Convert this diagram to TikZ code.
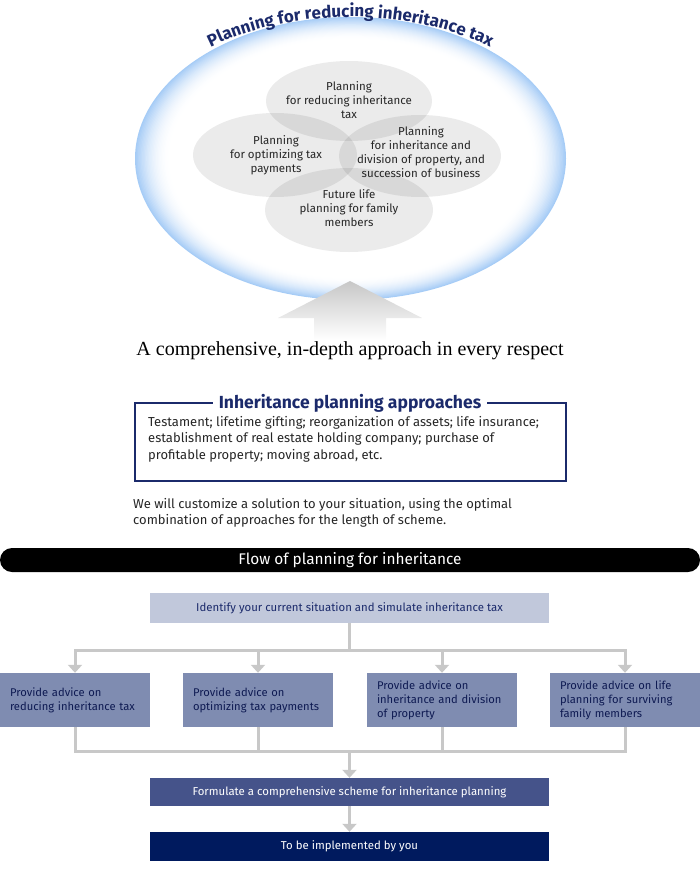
\documentclass[tikz,border=0pt]{standalone}
\usepackage{fontspec}
\setmainfont{Fira Sans}
\newfontfamily\serifface{Liberation Serif}
\usetikzlibrary{arrows.meta,decorations.text}

\definecolor{navy}{HTML}{1B2A6B}
\definecolor{glow}{HTML}{A6CCF6}
\definecolor{linkgray}{HTML}{C8C8C8}
\definecolor{idfill}{HTML}{C1C8DB}
\definecolor{advfill}{HTML}{7F8CB1}
\definecolor{advtext}{HTML}{0E1A52}
\definecolor{schemefill}{HTML}{45538A}
\definecolor{implfill}{HTML}{001A5E}

\begin{document}
\begin{tikzpicture}[x=1pt,y=1pt,
    blob/.style={fill=black, fill opacity=0.08},
    blobtext/.style={align=center, text=black!85, font=\fontsize{11.5}{14}\selectfont},
    widebox/.style={minimum width=399, minimum height=29, inner sep=0, font=\fontsize{11.4}{13}\selectfont},
    advbox/.style={fill=advfill, text=advtext, text width=130, inner xsep=10, minimum height=54, align=left, font=\fontsize{11.2}{14}\selectfont},
    link/.style={draw=linkgray, line width=3},
    arrowed/.style={-{Triangle[width=14pt,length=8pt]}}]
    \useasboundingbox (0,0) rectangle (700,-886);

    % planning circle, glow fading inwards
    \foreach \k in {0,...,25} {
        \pgfmathsetmacro\pct{100*(1-\k/25)^2}
        \fill[glow!\pct!white] (350.5,-158.5) ellipse ({215.5-1.4*\k} and {141.5-0.9*\k});
    }
    \path[decorate, decoration={text along path, text align=center, text color=navy,
        text={|\bfseries\fontsize{17}{17}\selectfont|Planning for reducing inheritance tax}}]
        (350.5,-158.5) ++(138:226 and 141.5) arc[start angle=138, end angle=42, x radius=226, y radius=141.5];

    \fill[blob] (349,-101) ellipse (83 and 40);
    \fill[blob] (275,-155) ellipse (82 and 42);
    \fill[blob] (420,-156) ellipse (81 and 41);
    \fill[blob] (349,-210) ellipse (84 and 42);
    \node[blobtext] (reducing) at (349,-100) {Planning\\for reducing inheritance\\tax};
    \node[blobtext] (optimizing) at (276,-155) {Planning\\for optimizing tax\\payments};
    \node[blobtext] (division) at (421,-152) {Planning\\for inheritance and\\division of property, and\\succession of business};
    \node[blobtext] (family) at (349,-208) {Future life\\planning for family\\members};

    \shade[top color=black!22, bottom color=white] (350,-281) -- (422,-318) -- (386,-318) -- (386,-340)
        -- (314,-340) -- (314,-318) -- (278,-318) -- cycle;

    \node[font=\serifface\fontsize{20}{20}\selectfont] (motto) at (350,-351) {A comprehensive, in-depth approach in every respect};

    % approaches
    \draw[navy, line width=2] (135,-403) rectangle (566,-481);
    \node[fill=white, text=navy, inner xsep=6, font=\bfseries\fontsize{17.5}{17.5}\selectfont] (approaches) at (350,-403) {Inheritance planning approaches};
    \node[anchor=north west, inner sep=0, align=left, text=black!85, font=\fontsize{13}{16.5}\selectfont] (methods) at (148,-416)
        {Testament; lifetime gifting; reorganization of assets; life insurance;\\establishment of real estate holding company; purchase of\\profitable property; moving abroad, etc.};
    \node[anchor=north west, inner sep=0, align=left, text=black!85, font=\fontsize{13}{16}\selectfont] (custom) at (133,-498)
        {We will customize a solution to your situation, using the optimal\\combination of approaches for the length of scheme.};

    % flow
    \node[fill=black, text=white, rounded corners=12, minimum width=700, minimum height=24, inner sep=0, font=\fontsize{15.4}{15.4}\selectfont] (flowbar) at (350,-560) {Flow of planning for inheritance};
    \node[widebox, fill=idfill, text=navy, minimum height=30] (ident) at (349.5,-608) {Identify your current situation and simulate inheritance tax};

    \node[advbox] (advReduce) at (75,-700) {Provide advice on\\reducing inheritance tax};
    \node[advbox] (advOptimize) at (258,-700) {Provide advice on\\optimizing tax payments};
    \node[advbox] (advDivide) at (442,-700) {Provide advice on\\inheritance and division\\of property};
    \node[advbox] (advLife) at (625,-700) {Provide advice on life\\planning for surviving\\family members};

    \node[widebox, fill=schemefill, text=white, minimum height=28] (scheme) at (349.5,-792) {Formulate a comprehensive scheme for inheritance planning};
    \node[widebox, fill=implfill, text=white] (implement) at (349.5,-846.5) {To be implemented by you};

    \coordinate (split) at (349.5,-650);
    \coordinate (merge) at (349.5,-751);
    \draw[link] (ident.south) -- (split);
    \draw[link, line cap=rect] (advReduce.north |- split) -- (advLife.north |- split);
    \foreach \adv in {advReduce,advOptimize,advDivide,advLife} {
        \draw[link, arrowed] (\adv.north |- split) -- (\adv.north);
        \draw[link] (\adv.south) -- (\adv.south |- merge);
    }
    \draw[link, line cap=rect] (advReduce.south |- merge) -- (advLife.south |- merge);
    \draw[link, arrowed] (merge) -- (scheme.north);
    \draw[link, arrowed] (scheme.south) -- (implement.north);
\end{tikzpicture}
\end{document}
